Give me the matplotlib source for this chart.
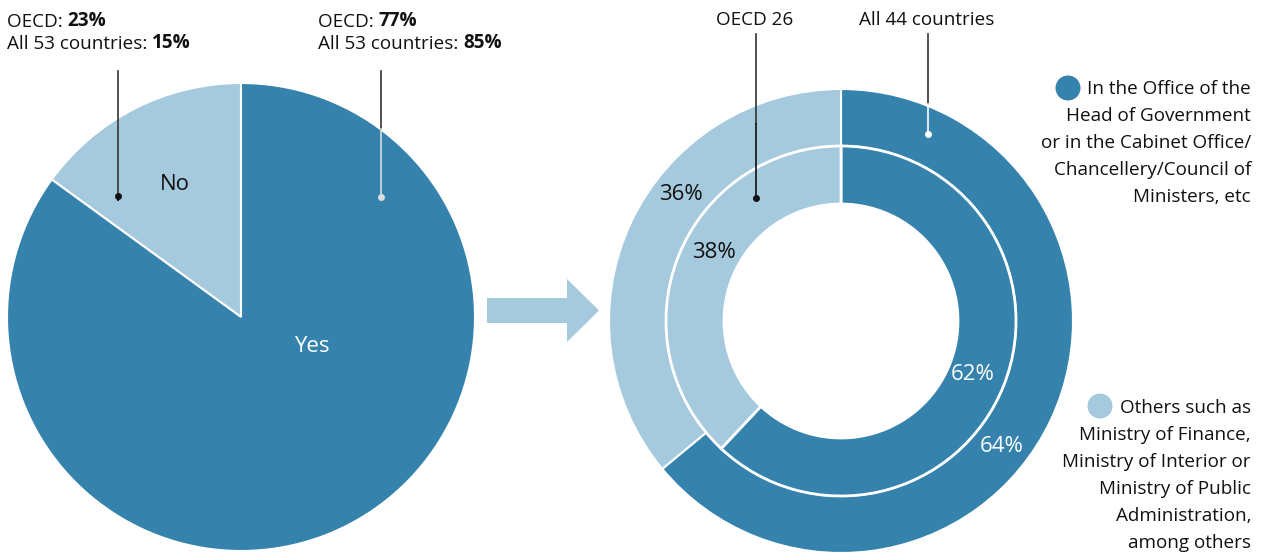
import matplotlib.pyplot as plt
from matplotlib.patches import FancyArrow, Circle

# data
answer_labels = ['No', 'Yes']
answer_all = [15, 85]     # all 53 countries
answer_oecd = [23, 77]    # OECD
location_all = [64, 36]   # all 44 countries: office of head of gov, others
location_oecd = [62, 38]  # OECD 26
ring_names = ['OECD 26', 'All 44 countries']

dark = '#3583ad'
light = '#a5cadd'
W, H = 1263, 556
FONT = 'Open Sans'
FS = 13.6

plt.rcParams['font.family'] = [FONT, 'DejaVu Sans']

fig = plt.figure(figsize=(W / 100, H / 100), dpi=100)
ax = fig.add_axes([0, 0, 1, 1])


def Y(y):
    # picture rows run downwards, axes upwards
    return H - y


# left pie
ax.pie(answer_all, colors=[light, dark], startangle=90, counterclock=True,
       center=(241, Y(317)), radius=234,
       wedgeprops=dict(edgecolor='white', linewidth=1.5))
ax.text(175, Y(184), answer_labels[0], ha='center', va='center', fontsize=16, color='#111111')
ax.text(312, Y(347), answer_labels[1], ha='center', va='center', fontsize=16, color='white')

# donut, outer ring all countries, inner ring OECD
ax.pie(location_all, colors=[dark, light], startangle=90, counterclock=False,
       center=(841, Y(321)), radius=232,
       wedgeprops=dict(width=57, edgecolor='white', linewidth=1.5))
ax.pie(location_oecd, colors=[dark, light], startangle=90, counterclock=False,
       center=(841, Y(321)), radius=175,
       wedgeprops=dict(width=58, edgecolor='white', linewidth=2))

ax.text(681, Y(195), f'{location_all[1]}%', ha='center', va='center', fontsize=16, color='#111111')
ax.text(714, Y(252), f'{location_oecd[1]}%', ha='center', va='center', fontsize=16, color='#111111')
ax.text(973, Y(375), f'{location_oecd[0]}%', ha='center', va='center', fontsize=16, color='white')
ax.text(1002, Y(447), f'{location_all[0]}%', ha='center', va='center', fontsize=16, color='white')

# arrow between the two charts
ax.add_patch(FancyArrow(487, Y(310.5), 112, 0, width=25, head_width=63, head_length=32,
                        length_includes_head=True, color=light, linewidth=0))


# leader lines: dark above the shape, white/black inside
def leader(x, y0, y_edge, y1, inside):
    ax.plot([x, x], [Y(y0), Y(y_edge)], color='#333333', lw=1.2)
    ax.plot([x, x], [Y(y_edge), Y(y1)], color=inside, lw=1.2)
    ax.plot(x, Y(y1), 'o', color=inside, ms=4)


leader(118, 71, 200, 196, '#111111')
leader(381, 71, 129, 197, '#dddddd')
leader(756, 34, 124, 198, '#111111')
leader(928, 34, 104, 134, 'white')

ax.text(755, Y(20), ring_names[0], ha='center', va='center', fontsize=FS, color='#111111')
ax.text(927, Y(20), ring_names[1], ha='center', va='center', fontsize=FS, color='#111111')


# top labels with bold values
def split_label(x, y, plain, bold):
    t = ax.text(x, Y(y), plain, ha='left', va='baseline', fontsize=FS, color='#111111')
    ax.annotate(bold, xy=(1, 0), xycoords=t, ha='left', va='bottom',
                fontsize=FS, fontweight='bold', color='#111111')


split_label(7, 27, 'OECD: ', f'{answer_oecd[0]}%')
split_label(7, 49, 'All 53 countries: ', f'{answer_all[0]}%')
split_label(318, 27, 'OECD: ', f'{answer_oecd[1]}%')
split_label(318, 49, 'All 53 countries: ', f'{answer_all[1]}%')

# legend
legend_dark = ['In the Office of the', 'Head of Government', 'or in the Cabinet Office/',
               'Chancellery/Council of', 'Ministers, etc']
legend_light = ['Others such as', 'Ministry of Finance,', 'Ministry of Interior or',
                'Ministry of Public', 'Administration,', 'among others']

ax.add_patch(Circle((1068, Y(88)), 12.5, color=dark, lw=0))
for i, line in enumerate(legend_dark):
    ax.text(1251, Y(89 + i * 27), line, ha='right', va='center', fontsize=FS, color='#111111')

ax.add_patch(Circle((1100, Y(406)), 12.5, color=light, lw=0))
for i, line in enumerate(legend_light):
    ax.text(1251, Y(408 + i * 27), line, ha='right', va='center', fontsize=FS, color='#111111')

ax.set_xlim(0, W)
ax.set_ylim(0, H)
ax.set_aspect('auto')
ax.axis('off')

fig.savefig('out.png', dpi=100)
